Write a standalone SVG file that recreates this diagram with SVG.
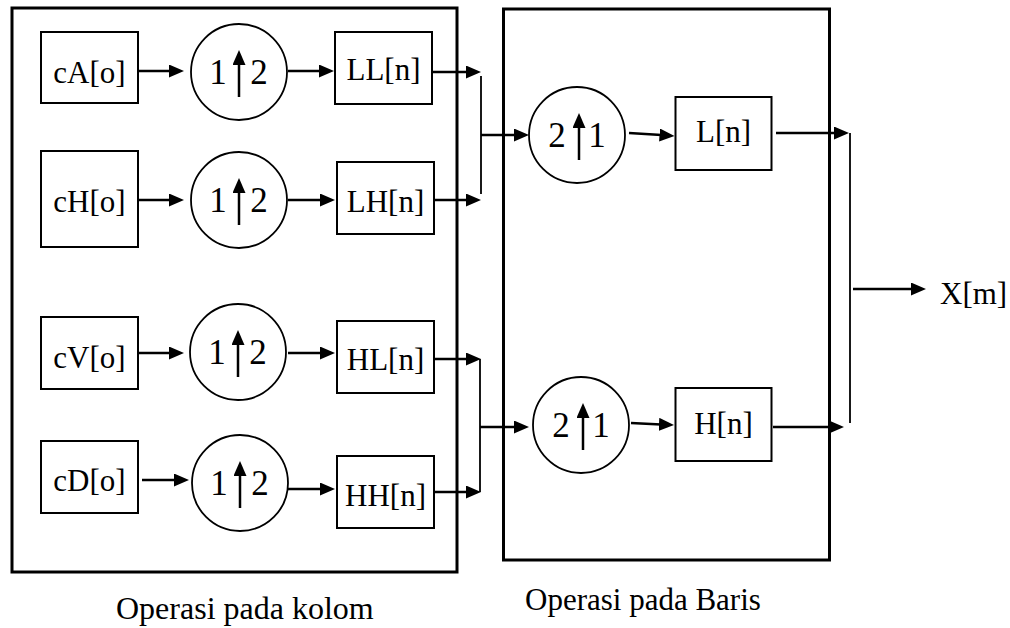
<svg xmlns="http://www.w3.org/2000/svg" width="1010" height="628" viewBox="0 0 1010 628">
<defs>
<style>
.frame{fill:none;stroke:#000;stroke-width:3}
.box{fill:#fff;stroke:#000;stroke-width:2}
.circ{fill:#fff;stroke:#000;stroke-width:1.8}
.lbl{font-family:"Liberation Serif","Times New Roman",serif;font-size:31px;fill:#000;text-anchor:middle}
.dig{font-family:"Liberation Serif","Times New Roman",serif;font-size:35px;fill:#000;text-anchor:middle}
.cap{font-family:"Liberation Serif","Times New Roman",serif;font-size:31px;fill:#000}
.ar{fill:none;stroke:#000;stroke-width:2.5;marker-end:url(#ah)}
.thin{fill:none;stroke:#000;stroke-width:1.8}
</style>
<marker id="ah" markerUnits="userSpaceOnUse" markerWidth="16" markerHeight="14" refX="2" refY="6.5" orient="auto">
<path d="M0,0 L15,6.5 L0,13 Z" fill="#000"/>
</marker>
</defs>
<rect width="1010" height="628" fill="#fff"/>
<g id="frames">
<rect class="frame" x="12" y="8" width="445" height="564"/>
<rect class="frame" x="503.5" y="9" width="326" height="551"/>
</g>
<g id="connectors">
<path class="ar" d="M138,71 H171"/>
<path class="ar" d="M288,71 H321"/>
<path class="ar" d="M433,72 H468"/>
<path class="ar" d="M138,200 H171"/>
<path class="ar" d="M288,200 H322"/>
<path class="ar" d="M434,200 H468"/>
<path class="thin" d="M481,76 V194"/>
<path class="ar" d="M481,135 H516"/>
<path class="ar" d="M138,353 H171"/>
<path class="ar" d="M288,353 H322"/>
<path class="ar" d="M434,359 H468"/>
<path class="ar" d="M142,480 H176"/>
<path class="ar" d="M288,489 H322"/>
<path class="ar" d="M434,492 H468"/>
<path class="thin" d="M480,359 V492"/>
<path class="ar" d="M480,427 H516"/>
<path class="ar" d="M629,133 L661.5,135.1"/>
<path class="ar" d="M776,133 H836"/>
<path class="ar" d="M631,423 L661,424.4"/>
<path class="ar" d="M773,427 H831"/>
<path class="thin" d="M850,133 V423"/>
<path class="ar" d="M853,289 H913"/>
</g>
<g id="cA"><rect class="box" x="41" y="32" width="97" height="71"/><text class="lbl" x="89.5" y="83">cA[o]</text></g>
<g id="cH"><rect class="box" x="41" y="151" width="97" height="96"/><text class="lbl" x="89.5" y="212">cH[o]</text></g>
<g id="cV"><rect class="box" x="41" y="317" width="97" height="72"/><text class="lbl" x="89.5" y="368">cV[o]</text></g>
<g id="cD"><rect class="box" x="41" y="441" width="97" height="72"/><text class="lbl" x="89.5" y="491">cD[o]</text></g>
<g id="up1"><circle class="circ" cx="239" cy="72" r="48"/><text class="dig" x="218" y="84">1</text><text class="dig" x="259" y="84">2</text><path class="ar" d="M239,97 V63"/></g>
<g id="up2"><circle class="circ" cx="239" cy="200" r="48"/><text class="dig" x="218" y="212">1</text><text class="dig" x="259" y="212">2</text><path class="ar" d="M239,225 V191"/></g>
<g id="up3"><circle class="circ" cx="238" cy="352" r="48"/><text class="dig" x="217" y="364">1</text><text class="dig" x="258" y="364">2</text><path class="ar" d="M238,377 V343"/></g>
<g id="up4"><circle class="circ" cx="240" cy="483" r="48"/><text class="dig" x="219" y="495">1</text><text class="dig" x="260" y="495">2</text><path class="ar" d="M240,508 V474"/></g>
<g id="LL"><rect class="box" x="335" y="32" width="97" height="72"/><text class="lbl" x="383.5" y="80">LL[n]</text></g>
<g id="LH"><rect class="box" x="337" y="162" width="97" height="72"/><text class="lbl" x="385.5" y="212">LH[n]</text></g>
<g id="HL"><rect class="box" x="337" y="321" width="97" height="72"/><text class="lbl" x="385.5" y="370">HL[n]</text></g>
<g id="HH"><rect class="box" x="337" y="456" width="97" height="72"/><text class="lbl" x="385.5" y="506">HH[n]</text></g>
<g id="up5"><circle class="circ" cx="577" cy="135" r="48"/><text class="dig" x="557" y="147">2</text><text class="dig" x="597" y="147">1</text><path class="ar" d="M579,160 V126"/></g>
<g id="up6"><circle class="circ" cx="581" cy="425" r="48"/><text class="dig" x="561" y="437">2</text><text class="dig" x="601" y="437">1</text><path class="ar" d="M583,450 V416"/></g>
<g id="L"><rect class="box" x="675.5" y="97" width="96" height="73"/><text class="lbl" x="723.5" y="142">L[n]</text></g>
<g id="H"><rect class="box" x="675.5" y="388" width="96" height="73"/><text class="lbl" x="723.5" y="434">H[n]</text></g>
<g id="X"><text class="cap" x="940" y="304">X[m]</text></g>
<text class="cap" x="116" y="619" style="font-size:32px">Operasi pada kolom</text>
<text class="cap" x="525" y="610">Operasi pada Baris</text>
</svg>
